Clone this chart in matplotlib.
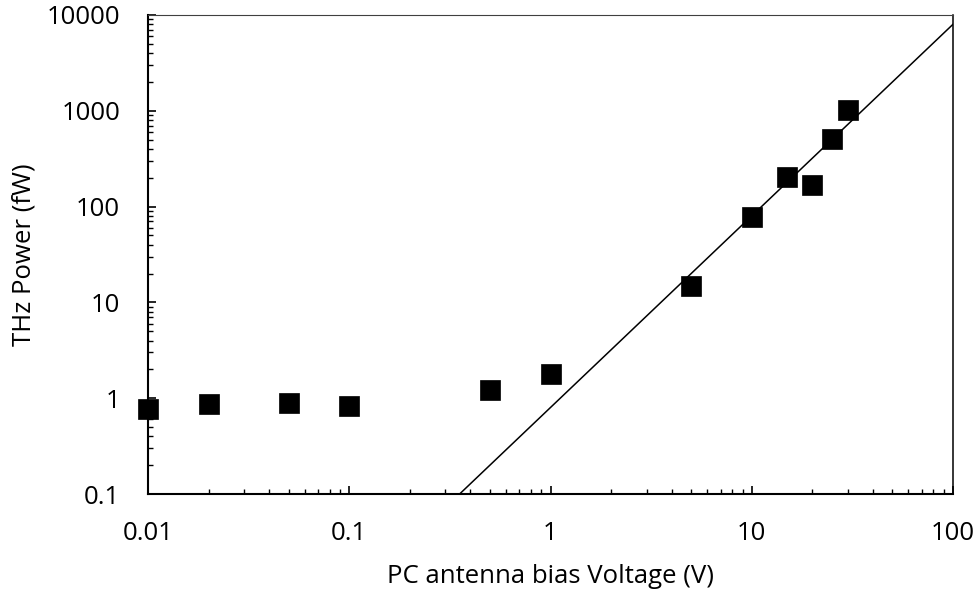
import matplotlib
matplotlib.use("Agg")
import matplotlib.pyplot as plt
import numpy as np
from matplotlib.ticker import LogLocator, FuncFormatter, NullFormatter

plt.rcParams['font.family'] = ['Open Sans', 'DejaVu Sans']

# measured points
voltage = [0.01, 0.02, 0.05, 0.1, 0.5, 1, 5, 10, 15, 20, 25, 30]
power = [0.77, 0.87, 0.89, 0.83, 1.22, 1.79, 14.8, 78, 204, 168, 508, 1019]

# quadratic guide line P = a * V^n
fit_coef = 0.8
fit_exp = 2
fit_v = [0.3, 100]

fig = plt.figure(figsize=(9.8, 5.96), dpi=100)
# axes box: x 148..953 px, y 15..494 px
ax = fig.add_axes([148 / 980, 1 - 494 / 596, 805 / 980, 479 / 596])

xv = np.logspace(np.log10(fit_v[0]), np.log10(fit_v[1]), 50)
ax.plot(xv, fit_coef * xv ** fit_exp, color='black', lw=1.1, zorder=2)
ax.plot(voltage, power, 's', color='black', markersize=14, mew=0.5,
        zorder=3, clip_on=False)

ax.set_xscale('log')
ax.set_yscale('log')
ax.set_xlim(0.01, 100)
ax.set_ylim(0.1, 10000)

fmt = FuncFormatter(lambda v, p: ('%g' % v))
ax.xaxis.set_major_formatter(fmt)
ax.yaxis.set_major_formatter(fmt)
ax.xaxis.set_major_locator(LogLocator(base=10, numticks=10))
ax.yaxis.set_major_locator(LogLocator(base=10, numticks=10))
ax.xaxis.set_minor_locator(LogLocator(base=10, subs=np.arange(2, 10), numticks=20))
ax.yaxis.set_minor_locator(LogLocator(base=10, subs=np.arange(2, 10), numticks=20))
ax.xaxis.set_minor_formatter(NullFormatter())
ax.yaxis.set_minor_formatter(NullFormatter())

ax.tick_params(which='major', direction='in', length=6, width=1.2, labelsize=18.5)
ax.tick_params(which='minor', direction='in', length=3.6, width=1)
ax.tick_params(axis='x', which='major', pad=19.5)
ax.tick_params(axis='y', which='major', pad=20)
ax.tick_params(top=False, right=False, which='both')

for s in ['left', 'bottom']:
    ax.spines[s].set_linewidth(1.5)
    ax.spines[s].set_color('black')
ax.spines['right'].set_linewidth(1.1)
ax.spines['right'].set_color('black')
ax.spines['top'].set_linewidth(0.8)
ax.spines['top'].set_color('#404040')

ax.set_xlabel('PC antenna bias Voltage (V)', fontsize=18.5, labelpad=13)
ax.set_ylabel('THz Power (fW)', fontsize=18.5, labelpad=7)

fig.savefig('out.png', dpi=100)
